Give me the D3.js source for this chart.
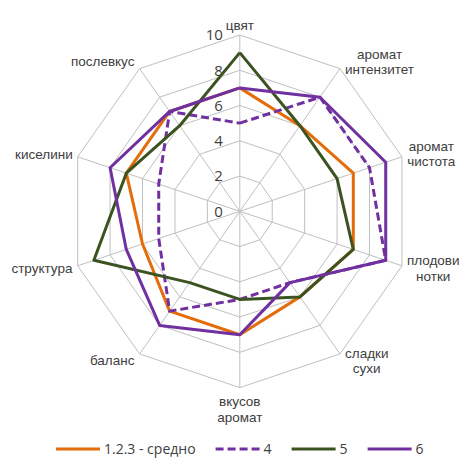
<!DOCTYPE html>
<html>
<head>
<meta charset="utf-8">
<script src="https://cdn.jsdelivr.net/npm/d3@7"></script>
<style>
  body { margin: 0; background: #fff; }
  svg { display: block; }
</style>
</head>
<body>
<svg id="chart"></svg>
<script>
// оси на диаграмата
var axes = [
  ["цвят"],
  ["аромат", "интензитет"],
  ["аромат", "чистота"],
  ["плодови", "нотки"],
  ["сладки", "сухи"],
  ["вкусов", "аромат"],
  ["баланс"],
  ["структура"],
  ["киселини"],
  ["послевкус"]
];
var seriesNames = ["1.2.3 - средно", "4", "5", "6"];
var avg123 = [7, 6, 7, 7, 6, 7, 7, 6, 7, 7];
var s4 = [5, 8, 8, 9, 5, 5, 7, 5, 5, 7];
var s5 = [9, 6, 6, 7, 6, 5, 5, 9, 7, 6];
var s6 = [7, 8, 9, 9, 5, 7, 8, 7, 8, 7];
var ticks = [0, 2, 4, 6, 8, 10];

var width = 459, height = 459;
var cx = 239.8, cy = 211.3;
var xr = 0.967; // оригиналът е леко свит хоризонтално

var colors = ["#E46C0A", "#7030A0", "#3B5321", "#7030A0"];
var dashes = [null, "8,4", null, null];
var allSeries = [avg123, s4, s5, s6];

var svg = d3.select("#chart").attr("width", width).attr("height", height);

var r = d3.scaleLinear().domain([0, 10]).range([0, 176.3]);
var angle = d3.scaleLinear().domain([0, axes.length]).range([0, 2 * Math.PI]);

function pt(i, v) {
  var a = angle(i);
  return [cx + Math.sin(a) * r(v) * xr, cy - Math.cos(a) * r(v)];
}

//мрежа
var grid = svg.append("g");
ticks.filter(function (t) { return t > 0; }).forEach(function (t) {
  grid.append("polygon")
    .attr("points", axes.map(function (d, i) { return pt(i, t).join(","); }).join(" "))
    .attr("fill", "none")
    .attr("stroke", "#BFBFBF")
    .attr("stroke-width", 1);
});
axes.forEach(function (d, i) {
  var p = pt(i, 10);
  grid.append("line")
    .attr("x1", cx).attr("y1", cy)
    .attr("x2", p[0]).attr("y2", p[1])
    .attr("stroke", "#BFBFBF")
    .attr("stroke-width", 1);
});

//стойности по скалата
svg.append("g").selectAll("text").data(ticks).enter().append("text")
  .attr("x", cx - 17)
  .attr("y", function (d) { return cy - r(d); })
  .attr("text-anchor", "end")
  .attr("dy", "0.35em")
  .attr("font-family", "'Open Sans', 'Noto Sans', sans-serif")
  .attr("font-size", 15)
  .attr("fill", "#404040")
  .text(function (d) { return d; });

//надписи на осите
var lh = 15.5;
axes.forEach(function (lines, i) {
  var a = angle(i);
  var s = Math.sin(a), c = Math.cos(a);
  var p = pt(i, 10);
  var t = svg.append("text")
    .attr("font-family", "'Liberation Sans', Arial, sans-serif")
    .attr("font-size", 13.5)
    .attr("fill", "#404040")
    .attr("text-anchor", "middle");
  lines.forEach(function (l, k) {
    t.append("tspan").attr("x", 0).attr("y", k * lh).text(l);
  });
  var b = t.node().getBBox();
  var x, y;
  var half = (lines.length - 1) * lh / 2;
  if (Math.abs(s) < 0.1) {
    x = p[0];
    y = c > 0 ? p[1] - 10 - half : p[1] + 14 + half;
  } else {
    x = s > 0 ? p[0] + 5 + b.width / 2 : p[0] - 5 - b.width / 2;
    y = p[1] - c * 8.5;
  }
  t.attr("transform", "translate(" + x + "," + (y - half + 4.5) + ")");
});

//серии
var line = d3.line()
  .x(function (d) { return d[0]; })
  .y(function (d) { return d[1]; });

allSeries.forEach(function (vals, si) {
  var pts = vals.map(function (v, i) { return pt(i, v); });
  pts.push(pts[0]);
  svg.append("path")
    .datum(pts)
    .attr("d", line)
    .attr("fill", "none")
    .attr("stroke", colors[si])
    .attr("stroke-width", 3)
    .attr("stroke-linejoin", "round")
    .attr("stroke-dasharray", dashes[si]);
});

//легенда
var legend = svg.append("g");
var lx = 0, ly = 449;
seriesNames.forEach(function (name, si) {
  var g = legend.append("g").attr("transform", "translate(" + lx + ",0)");
  g.append("line")
    .attr("x1", 0).attr("x2", 44)
    .attr("y1", ly).attr("y2", ly)
    .attr("stroke", colors[si])
    .attr("stroke-width", 3)
    .attr("stroke-dasharray", dashes[si]);
  var tx = g.append("text")
    .attr("x", 48).attr("y", ly)
    .attr("dy", "0.35em")
    .attr("font-family", "'Open Sans', 'Noto Sans', sans-serif")
    .attr("font-size", 14)
    .attr("fill", "#404040")
    .text(name);
  lx += 48 + tx.node().getComputedTextLength() + 20;
});
var total = lx - 20;
legend.attr("transform", "translate(" + (cx - total / 2) + ",0)");
</script>
</body>
</html>
